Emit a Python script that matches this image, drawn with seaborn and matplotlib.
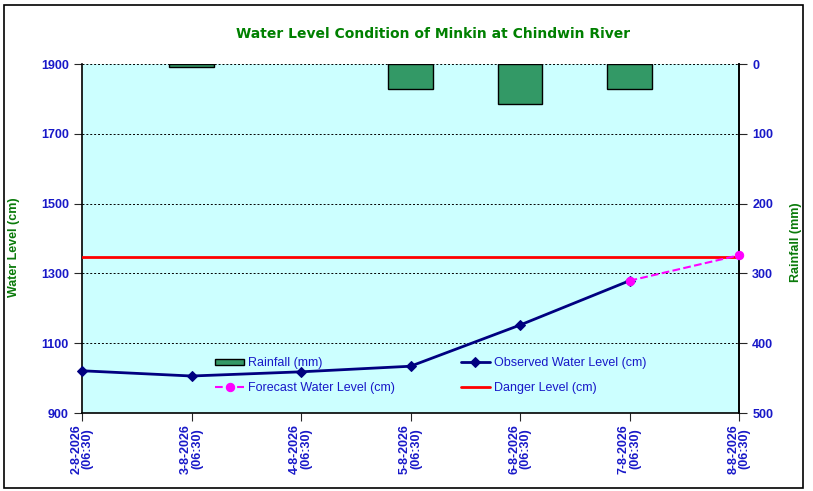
#Water level condition chart, Minkin station (Chindwin River)

import matplotlib
matplotlib.use("Agg")
import matplotlib.pyplot as plt
import seaborn as sns
import pandas as pd
from matplotlib.patches import Rectangle

# data
dates = ["2-8-2026", "3-8-2026", "4-8-2026", "5-8-2026", "6-8-2026", "7-8-2026", "8-8-2026"]
observed = [1021, 1006, 1018, 1034, 1152, 1279]
forecast_days = ["7-8-2026", "8-8-2026"]
forecast = [1279, 1352]
danger_level = 1348
rain_days = ["3-8-2026", "5-8-2026", "6-8-2026", "7-8-2026"]
rain_mm = [4, 36, 58, 36]

sns.set_style("white")
plt.rcParams['font.family'] = ['Liberation Sans', 'DejaVu Sans']

blue = '#1818C8'
green = '#0A7A0A'

fig = plt.figure(figsize=(8.13, 4.91), dpi=100)
ax = fig.add_axes([82 / 813, 1 - 413 / 491, 657 / 813, 349 / 491])

obs = pd.DataFrame({'x': range(len(observed)), 'level': observed})
fc = pd.DataFrame({'x': [dates.index(d) for d in forecast_days], 'level': forecast})

ax.axhline(danger_level, color='#FF0000', linewidth=2, zorder=3, label='Danger Level (cm)')
sns.lineplot(data=obs, x='x', y='level', ax=ax, color='#000080', linewidth=2,
             marker='D', markersize=5, markeredgecolor='#000080', zorder=4, clip_on=False,
             label='Observed Water Level (cm)')
sns.lineplot(data=fc, x='x', y='level', ax=ax, color='#FF00FF', linewidth=1.5,
             linestyle='--', marker='o', markersize=6, markeredgecolor='#FF00FF', zorder=4,
             clip_on=False, label='Forecast Water Level (cm)')

ax.set_xlim(0, len(dates) - 1)
ax.set_ylim(900, 1900)
ax.set_yticks(range(900, 2000, 200))
ax.grid(axis='y', color='black', linestyle=(0, (2, 2)), linewidth=0.7)
ax.set_xticks(range(len(dates)))
ax.set_xticklabels([d + "\n(06:30)" for d in dates], rotation=90, fontsize=9,
                   fontweight='bold', color=blue, linespacing=0.95)
ax.tick_params(axis='y', labelsize=9, labelcolor=blue, length=6, direction='out', left=True)
ax.tick_params(axis='x', length=6, direction='out', bottom=True, pad=2)
for lab in ax.get_yticklabels():
    lab.set_fontweight('bold')
ax.spines['top'].set_visible(False)
for s in ['left', 'bottom', 'right']:
    ax.spines[s].set_color('black')
    ax.spines[s].set_linewidth(1.2)
ax.set_xlabel('')
ax.set_ylabel('Water Level (cm)', color=green, fontsize=9, fontweight='bold')
ax.yaxis.set_label_coords(-0.094, 0.475)

# rainfall on the secondary (inverted) axis
ax2 = ax.twinx()
rain = pd.DataFrame({'x': [dates.index(d) for d in rain_days], 'rain': rain_mm})
ax2.bar(rain['x'], rain['rain'], width=0.41, color='#339966', edgecolor='black',
        linewidth=1, zorder=2, label='Rainfall (mm)')
ax2.set_ylim(500, 0)
ax2.set_yticks(range(0, 600, 100))
ax2.tick_params(axis='y', labelsize=9, labelcolor=blue, length=6, direction='out', right=True)
for lab in ax2.get_yticklabels():
    lab.set_fontweight('bold')
ax2.set_ylabel('Rainfall (mm)', color=green, fontsize=9, fontweight='bold')
ax2.yaxis.set_label_coords(1.078, 0.49)
for s in ax2.spines.values():
    s.set_visible(False)
ax2.spines['right'].set_visible(True)
ax2.spines['right'].set_color('black')
ax2.spines['right'].set_linewidth(1.2)
ax.set_zorder(ax2.get_zorder() + 1)
ax.patch.set_visible(False)
ax2.patch.set_visible(True)
ax2.patch.set_facecolor('#CCFFFF')

# legend: two columns, no frame
h1, l1 = ax.get_legend_handles_labels()
h2, l2 = ax2.get_legend_handles_labels()
hd = dict(zip(l1 + l2, h1 + h2))
order = ['Rainfall (mm)', 'Forecast Water Level (cm)', 'Observed Water Level (cm)', 'Danger Level (cm)']
leg = ax.legend([hd[k] for k in order], order, ncol=2, frameon=False,
                loc='upper left', bbox_to_anchor=(0.1855, 0.192), fontsize=9,
                columnspacing=5.25, handlelength=2.35, handleheight=0.4,
                labelspacing=1.03, handletextpad=0.3)
for t in leg.get_texts():
    t.set_color(blue)

fig.text(433 / 813, 1 - 34 / 491, 'Water Level Condition of Minkin at Chindwin River',
         ha='center', va='center', fontsize=10, fontweight='bold', color='#008000',
         family='DejaVu Sans')

# chart border
fig.patches.append(Rectangle((4 / 813, 1 - 488 / 491), 799 / 813, 483 / 491,
                             transform=fig.transFigure, fill=False, edgecolor='black',
                             linewidth=1.2))

fig.savefig('out.png', dpi=100, facecolor='white')
